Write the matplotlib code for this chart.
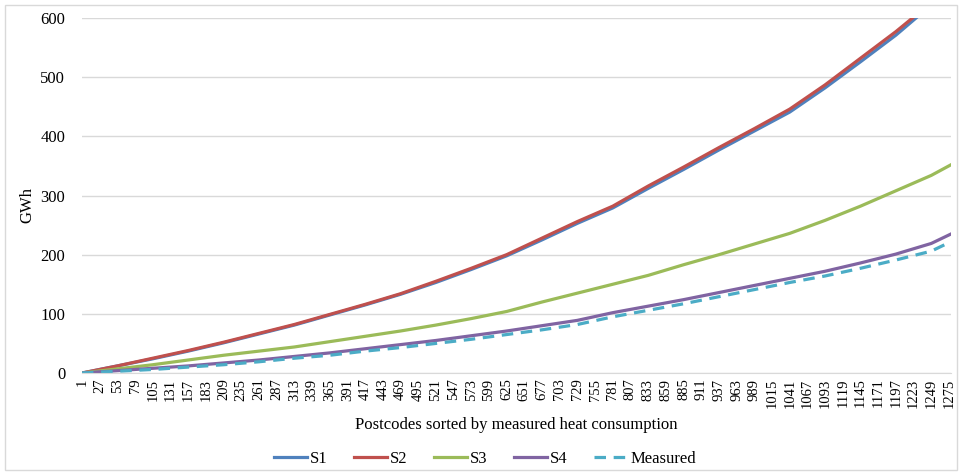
import numpy as np
import matplotlib.pyplot as plt
from matplotlib.patches import Rectangle

plt.rcParams['font.family'] = ['Liberation Serif', 'DejaVu Serif']

# Values (GWh, cumulative) at selected postcode ranks
idx = [1, 53, 105, 157, 209, 261, 313, 365, 417, 469, 521, 573, 625,
       677, 729, 781, 833, 885, 937, 989, 1041, 1093, 1145, 1197, 1249, 1278]
s1 = [0, 12, 24, 37, 51, 66, 81, 98, 115, 133, 153, 175, 198,
      225, 253, 279, 312, 344, 377, 409, 441, 482, 526, 571, 622, 650]
s2 = [0, 12, 25, 38, 52, 67, 82, 99, 116, 134, 155, 177, 200,
      228, 256, 282, 316, 348, 381, 413, 446, 487, 532, 577, 626, 655]
s3 = [0, 7, 14, 22, 30, 37, 44, 53, 62, 71, 81, 92, 104,
      120, 135, 150, 165, 183, 200, 218, 236, 258, 282, 308, 334, 352]
s4 = [0, 4, 8, 12, 17, 22, 28, 34, 41, 48, 55, 63, 71,
      80, 89, 102, 113, 124, 136, 148, 160, 172, 186, 201, 219, 235]
measured = [0, 3, 6, 10, 14, 19, 25, 30, 37, 43, 50, 57, 65,
            73, 82, 95, 106, 117, 129, 141, 153, 164, 177, 191, 206, 222]
n_postcodes = 1278
tick_labels = list(range(1, 1276, 26))

fig = plt.figure(figsize=(9.62, 4.72), dpi=100)
ax = fig.add_axes([0.0852, 0.2097, 0.9034, 0.7522])

ax.plot(idx, s1, color='#4F81BD', lw=2.3, label='S1')
ax.plot(idx, s2, color='#C0504D', lw=2.3, label='S2')
ax.plot(idx, s3, color='#9BBB59', lw=2.3, label='S3')
ax.plot(idx, s4, color='#8064A2', lw=2.3, label='S4')
ax.plot(idx, measured, color='#4BACC6', lw=2.3, ls=(0, (3.6, 2.4)), label='Measured')

ax.set_xlim(1, n_postcodes)
ax.set_ylim(0, 600)
ax.set_yticks(range(0, 601, 100))
ax.set_xticks(tick_labels)
ax.set_xticklabels([str(t) for t in tick_labels], rotation=90, fontsize=10.5)
ax.tick_params(axis='y', labelsize=12, length=0, pad=12)
ax.tick_params(axis='x', length=0, pad=4)
ax.grid(axis='y', color='#D9D9D9', lw=1)
ax.set_axisbelow(True)
for side in ['top', 'right', 'left']:
    ax.spines[side].set_visible(False)
ax.spines['bottom'].set_color('#D9D9D9')

fig.text(0.028, 0.565, 'GWh', rotation=90, ha='center', va='center', fontsize=12)
fig.text(0.537, 0.1, 'Postcodes sorted by measured heat consumption',
         ha='center', va='center', fontsize=12)

fig.legend(loc='center', bbox_to_anchor=(0.504, 0.028), ncol=5, frameon=False,
           fontsize=12, handlelength=2.0, columnspacing=1.6, handletextpad=0.15)

fig.patches.append(Rectangle((0.005, 0.005), 0.99, 0.985, transform=fig.transFigure,
                             fill=False, edgecolor='#D9D9D9', lw=1))

fig.savefig('out.png', dpi=100)
